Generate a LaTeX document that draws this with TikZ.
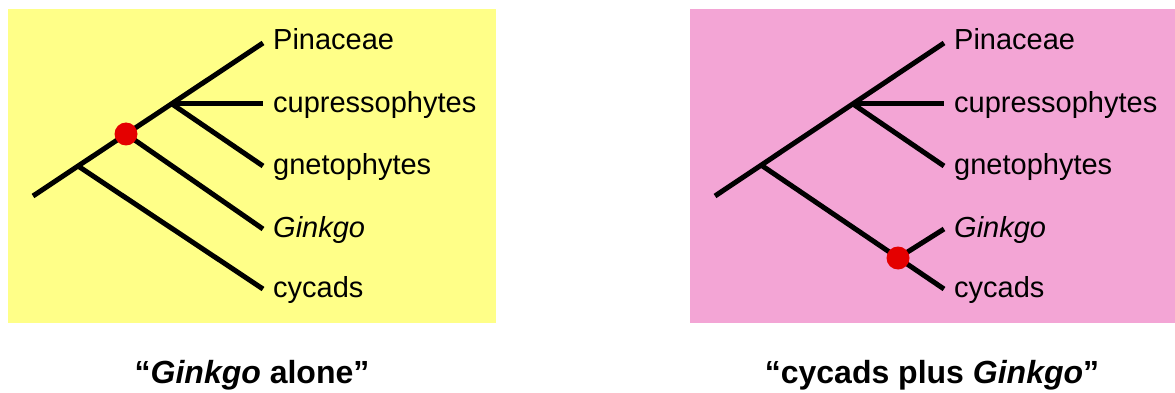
\documentclass[tikz,border=0pt]{standalone}
\usepackage{fontspec}
\setmainfont{Liberation Sans}
\definecolor{yel}{RGB}{255,255,136}
\definecolor{pnk}{RGB}{243,165,213}
\definecolor{dotred}{RGB}{228,0,0}
\begin{document}
\begin{tikzpicture}[x=1pt,y=-1pt,
  br/.style={line width=5pt},
  lab/.style={anchor=base west, inner sep=0pt, font=\fontsize{29}{32}\selectfont},
  dotnode/.style={circle, fill=dotred, minimum size=23pt, inner sep=0pt},
  captxt/.style={anchor=base, inner sep=0pt, font=\fontsize{32}{36}\selectfont\bfseries}]
\useasboundingbox (0,0) rectangle (1175,393);
\fill[yel] (8,9) rectangle (496,323);
\fill[pnk] (690,9) rectangle (1175,323);
% ---- left tree: "Ginkgo alone"
\coordinate (Lr) at (33,196);
\coordinate (La) at (78,166);
\coordinate (Ldc) at (126,134);
\coordinate (Lc) at (172,104);
\coordinate (Lt1) at (263,43);
\coordinate (Lt2) at (263,104);
\coordinate (Lt3) at (263,166);
\coordinate (Lt4) at (263,229);
\coordinate (Lt5) at (263,289);
\draw[br] (Lr) -- (Lt1);
\draw[br] (Lc) -- (Lt2);
\draw[br] (Lc) -- (Lt3);
\draw[br] (Ldc) -- (Lt4);
\draw[br] (La) -- (Lt5);
\node[dotnode] (Ld) at (Ldc) {};
\node[lab] (Lp) at (273,50) {Pinaceae};
\node[lab] (Lcu) at (273,113) {cupressophytes};
\node[lab] (Lg) at (273,174) {gnetophytes};
\node[lab] (Lgi) at (273,237) {\itshape Ginkgo};
\node[lab] (Lcy) at (273,297) {cycads};
% ---- right tree: "cycads plus Ginkgo"
\coordinate (Rr) at (715,196);
\coordinate (Ra) at (761,165);
\coordinate (Rc) at (853,104);
\coordinate (Rdc) at (898,258);
\coordinate (Rt1) at (944,43);
\coordinate (Rt2) at (944,104);
\coordinate (Rt3) at (944,166);
\coordinate (Rt4) at (944,229);
\coordinate (Rt5) at (944,289);
\draw[br] (Rr) -- (Rt1);
\draw[br] (Rc) -- (Rt2);
\draw[br] (Rc) -- (Rt3);
\draw[br] (Ra) -- (Rt5);
\draw[br] (Rdc) -- (Rt4);
\node[dotnode] (Rd) at (Rdc) {};
\node[lab] (Rp) at (954,50) {Pinaceae};
\node[lab] (Rcu) at (954,113) {cupressophytes};
\node[lab] (Rg) at (954,174) {gnetophytes};
\node[lab] (Rgi) at (954,237) {\itshape Ginkgo};
\node[lab] (Rcy) at (954,297) {cycads};
% ---- captions
\node[captxt] (Lcap) at (252,383) {“\textit{Ginkgo} alone”};
\node[captxt] (Rcap) at (932,383) {“cycads plus \textit{Ginkgo}”};
\end{tikzpicture}
\end{document}
